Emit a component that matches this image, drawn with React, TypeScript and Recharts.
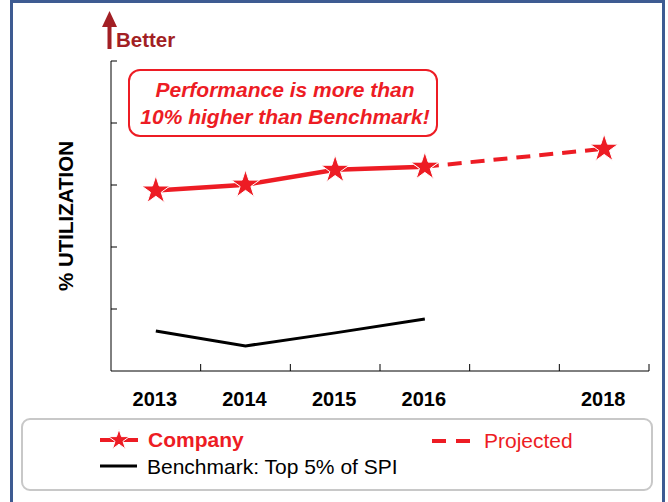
import { LineChart, Line, XAxis, YAxis, Label } from 'recharts'

const years = [2013, 2014, 2015, 2016, 2017, 2018]
const yearLabels = ['2013', '2014', '2015', '2016', '', '2018']
const company = [58.2, 60.1, 64.9, 65.9, null, null]
const projected = [null, null, null, 65.9, null, 71.7]
const benchmark = [12.9, 8.1, 12.3, 16.8, null, null]
const yTicks = [0, 20, 40, 60, 80, 100]
// tick marks sit on the category boundaries, labels on the centres
const xTicks = [...years.flatMap((y) => [y - 0.5, y]), years[years.length - 1] + 0.5]

const calloutLines = ['Performance is more than', '10% higher than Benchmark!']

const RED = '#ed1c24'
const DARK_RED = '#a21f24'
const FRAME = '#3e5b92'
const FONT = '"Liberation Sans", Arial, sans-serif'

const data = years.map((year, i) => ({
  year,
  company: company[i],
  projected: projected[i],
  benchmark: benchmark[i],
}))

function starPath(cx: number, cy: number, r: number) {
  const pts: string[] = []
  for (let i = 0; i < 10; i++) {
    const a = ((-90 + i * 36) * Math.PI) / 180
    const rr = i % 2 === 0 ? r : r * 0.382
    pts.push(`${(cx + rr * Math.cos(a)).toFixed(2)},${(cy + rr * Math.sin(a)).toFixed(2)}`)
  }
  return 'M' + pts.join('L') + 'Z'
}

const StarDot = (props: any) => {
  const { cx, cy, value, index, dataKey } = props
  const key = `star-${dataKey}-${index}`
  if (cx == null || cy == null || value == null) return <g key={key} />
  return <path key={key} d={starPath(cx, cy, 14.8)} fill={RED} stroke="#fff" strokeWidth={1} />
}

const XTick = (props: any) => {
  const { x, y, payload } = props
  const v = payload.value
  if (Number.isInteger(v)) {
    return (
      <text x={x - 1} y={y + 35} textAnchor="middle" fontSize={20} fontWeight="bold" fill="#000" fontFamily={FONT}>
        {yearLabels[years.indexOf(v)]}
      </text>
    )
  }
  if (v === xTicks[0]) return <g />
  return <line x1={x} x2={x} y1={y} y2={y - 7} stroke="#000" strokeWidth={1} />
}

const YTick = (props: any) => {
  const { x, y, payload } = props
  if (payload.value === 0) return <g />
  return <line x1={x} x2={x + 6} y1={y} y2={y} stroke="#000" strokeWidth={1} />
}

function Overlay() {
  return (
    <svg width={668} height={502} style={{ position: 'absolute', left: 0, top: 0, pointerEvents: 'none' }}>
      {/* Better arrow */}
      <polygon points="109.5,11 102,27 117,27" fill={DARK_RED} />
      <rect x={107.5} y={26} width={4} height={23} fill={DARK_RED} />
      <text x={116} y={47} fontSize={20.5} fontWeight="bold" fill={DARK_RED} fontFamily={FONT}>Better</text>

      {/* callout */}
      <rect x={129} y={70} width={308} height={66} rx={11} fill="#fff" stroke={RED} strokeWidth={2} />
      {calloutLines.map((t, i) => (
        <text key={t} x={285} y={97 + i * 27} textAnchor="middle" fontSize={21} fontWeight="bold"
          fontStyle="italic" fill={RED} fontFamily={FONT}>{t}</text>
      ))}

      {/* legend */}
      <rect x={22} y={419} width={630} height={71} rx={8} fill="#fff" stroke="#c8c8c8" strokeWidth={2} />
      <line x1={100} x2={138} y1={440} y2={440} stroke={RED} strokeWidth={4} />
      <path d={starPath(119, 440, 11)} fill={RED} stroke="#fff" strokeWidth={1} />
      <text x={148} y={447} fontSize={21} fontWeight="bold" fill={RED} fontFamily={FONT}>Company</text>
      <line x1={432} x2={470} y1={441} y2={441} stroke={RED} strokeWidth={4} strokeDasharray="14 10" />
      <text x={484} y={448} fontSize={21} fill={RED} fontFamily={FONT}>Projected</text>
      <line x1={100} x2={137} y1={466} y2={466} stroke="#000" strokeWidth={3} />
      <text x={147} y={474} fontSize={21} fill="#000" fontFamily={FONT}>Benchmark: Top 5% of SPI</text>
    </svg>
  )
}

export default function App() {
  return (
    <div style={{ position: 'absolute', left: 0, top: 0, width: 668, height: 502, overflow: 'hidden', background: '#fff' }}>
      <div style={{ position: 'absolute', left: 10, top: 0, width: 655, height: 520, border: `3px solid ${FRAME}`, boxSizing: 'border-box' }} />
      <div style={{ position: 'absolute', left: 0, top: 0 }}>
        <LineChart width={668} height={502} data={data} margin={{ top: 61, right: 19, bottom: 91, left: 21 }}>
          <XAxis
            dataKey="year"
            type="number"
            domain={[xTicks[0], xTicks[xTicks.length - 1]]}
            ticks={xTicks}
            interval={0}
            allowDecimals
            height={40}
            tickLine={false}
            tickSize={0}
            tickMargin={0}
            tick={XTick}
            axisLine={{ stroke: '#000', strokeWidth: 1 }}
          />
          <YAxis
            type="number"
            domain={[0, 100]}
            ticks={yTicks}
            interval={0}
            width={90}
            tickLine={false}
            tickSize={0}
            tickMargin={0}
            tick={YTick}
            axisLine={{ stroke: '#000', strokeWidth: 1 }}
          >
            <Label value="% UTILIZATION" angle={-90} position="center" fontSize={20.5} fontWeight="bold"
              fill="#000" fontFamily={FONT} />
          </YAxis>
          <Line dataKey="projected" stroke={RED} strokeWidth={4} strokeDasharray="14 9" connectNulls
            dot={StarDot} activeDot={false} isAnimationActive={false} />
          <Line dataKey="benchmark" stroke="#000" strokeWidth={3} dot={false} activeDot={false}
            isAnimationActive={false} />
          <Line dataKey="company" stroke={RED} strokeWidth={4.5} dot={StarDot} activeDot={false}
            isAnimationActive={false} />
        </LineChart>
      </div>
      <Overlay />
    </div>
  )
}
